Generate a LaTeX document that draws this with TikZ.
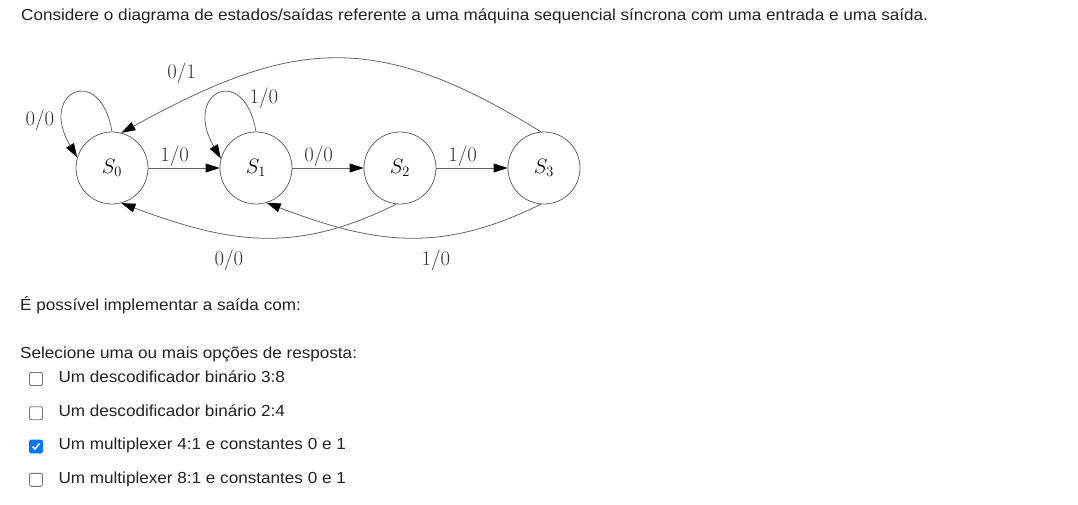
\documentclass[tikz,border=0pt]{standalone}
\usepackage{fontspec}
\setmainfont{Liberation Sans}[FakeStretch=1.07]
\usetikzlibrary{arrows.meta}
\definecolor{chkblue}{HTML}{0075FF}

\begin{document}
\begin{tikzpicture}[x=1pt,y=-1pt,
  state/.style={draw=black!60, line width=0.8pt, circle, minimum size=72pt, inner sep=0pt, font=\fontsize{21}{25}\selectfont},
  lbl/.style={font=\fontsize{21}{25}\selectfont, text=black!80, inner sep=1pt},
  trans/.style={draw=black!60, line width=0.8pt, -{Triangle[length=14pt,width=9pt,color=black]}},
  txt/.style={anchor=base west, inner sep=0pt, font=\fontsize{16}{19}\selectfont, text=black!87},
  box/.style={draw=black!55, fill=white, line width=0.9pt, rounded corners=2pt, minimum size=13pt, inner sep=0pt},
  boxon/.style={box, draw=chkblue, fill=chkblue}]
\useasboundingbox (0,0) rectangle (1078,505);

\node[txt] (intro) at (21,20.7) {Considere o diagrama de estados/saídas referente a uma máquina sequencial síncrona com uma entrada e uma saída.};

% states
\node[state] (s0) at (112,168) {$S_0$};
\node[state] (s1) at (256,168) {$S_1$};
\node[state] (s2) at (400,168) {$S_2$};
\node[state] (s3) at (544,168) {$S_3$};

% transitions
\draw[trans] (s0) -- node[lbl, above, pos=.37] (t01) {$1/0$} (s1);
\draw[trans] (s1) -- node[lbl, above, pos=.37] (t12) {$0/0$} (s2);
\draw[trans] (s2) -- node[lbl, above, pos=.37] (t23) {$1/0$} (s3);
\draw[trans] (s0.90) .. controls (100,62) and (38,92) .. (s0.163);
\draw[trans] (s1.90) .. controls (244,62) and (182,92) .. (s1.165);
\draw[trans] (s3.95) .. controls (375,29) and (292,39) .. (s0.75);
\draw[trans] (s2.-96) .. controls (296,254) and (231,244) .. (s0.-75);
\draw[trans] (s3.-95) .. controls (440,254) and (375,244) .. (s1.-73);
\node[lbl] (t00) at (40,120.8) {$0/0$};
\node[lbl] (t11) at (264,98.3) {$1/0$};
\node[lbl] (t30) at (181.7,73.3) {$0/1$};
\node[lbl] (t20) at (229,260) {$0/0$};
\node[lbl] (t31) at (436,260) {$1/0$};

% question and options
\node[txt] (ask) at (20,310) {É possível implementar a saída com:};
\node[txt] (sel) at (20,358.3) {Selecione uma ou mais opções de resposta:};
\node[box] (cb1) at (36,379) {};
\node[box] (cb2) at (36,413.2) {};
\node[boxon] (cb3) at (36,446.5) {};
\node[box] (cb4) at (36,479.8) {};
\draw[white, line width=1.6pt] ([xshift=-3.5pt]cb3.center) -- ([xshift=-1pt,yshift=-2.5pt]cb3.center) -- ([xshift=3.5pt,yshift=3pt]cb3.center);
\node[txt] (op1) at (58.3,382.3) {Um descodificador binário 3:8};
\node[txt] (op2) at (58.3,416.5) {Um descodificador binário 2:4};
\node[txt] (op3) at (58.3,449.8) {Um multiplexer 4:1 e constantes 0 e 1};
\node[txt] (op4) at (58.3,483.1) {Um multiplexer 8:1 e constantes 0 e 1};
\end{tikzpicture}
\end{document}
